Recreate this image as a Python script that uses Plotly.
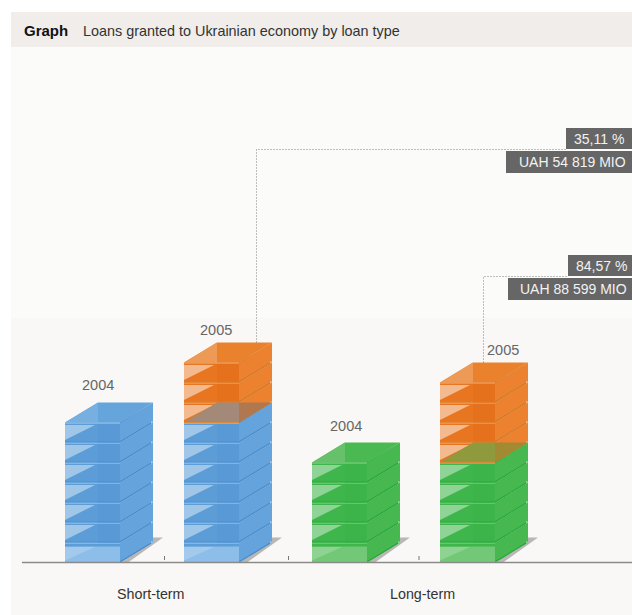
import plotly.graph_objects as go

# ---- data ----
title_bold = "Graph"
title_text = "Loans granted to Ukrainian economy by loan type"
categories = ["Short-term", "Long-term"]
years = ["2004", "2005"]
floors_2004 = [7, 5]
floors_2005 = [10, 9]
pct_labels = ["35,11 %", "84,57 %"]
amount_labels = ["UAH 54 819 MIO", "UAH 88 599 MIO"]

# ---- geometry / styling ----
W, H, BASE_PX, FLOOR_PX = 632, 615, 562.5, 20
FW, DX = 55, 33          # front width and depth offset
SLOT_X = {(0, 0): 65, (0, 1): 184, (1, 0): 312, (1, 1): 440}
TICKS_X = [164.5, 288.5, 419]
FONT = "Liberation Sans, Arial, sans-serif"

PAL = {
    "blue": dict(front="#5c9dd8", right="#5999d6", side="#65a3dc", top="#66a5dc", topl="#77afe1",
                 edge="#4f92d2", sidee="#458acb", light="#a9cfef", base="#8dbde9", gloss="rgba(255,255,255,0.42)"),
    "green": dict(front="#3fb64b", right="#3cb449", side="#47b84f", top="#4bb951", topl="#66c16a",
                  edge="#2bac40", sidee="#22a63a", light="#8ed492", base="#73c878", gloss="rgba(255,255,255,0.42)"),
    "orange": dict(front="#e8751f", right="#e6711d", side="#ec8130", top="#e9812d", topl="#ee9a57",
                   edge="#d97f2c", sidee="#c97a26", light="#f2b27e", base="#e8751f", gloss="rgba(255,255,255,0.5)"),
}
OVERLAP = {"blue": ("#a38a78", "#b0784f"), "green": ("#8f9a3c", "#a18a32")}

fig = go.Figure()


def py(p):
    """pixel row -> floors on the y axis"""
    return (BASE_PX - p) / FLOOR_PX


def poly(xs, ys, color):
    fig.add_trace(go.Scatter(x=xs, y=ys, mode="lines", fill="toself", fillcolor=color,
                             line=dict(width=0), hoverinfo="skip", showlegend=False))


def rect(x0, x1, y0, y1, color):
    poly([x0, x1, x1, x0, x0], [y0, y0, y1, y1, y0], color)


def floor(x0, k, pal, bottom=False, h=1.0):
    # side face
    poly([x0 + FW, x0 + FW + DX, x0 + FW + DX, x0 + FW, x0 + FW],
         [k, k + 1, k + 1 + h, k + h, k], pal["side"])
    # front face
    rect(x0, x0 + FW, k, k + h, pal["base"] if bottom else pal["front"])
    if bottom:
        rect(x0, x0 + FW, k + 0.8, k + h, pal["front"])
        poly([x0, x0 + 30, x0, x0], [k + 0.78, k + 0.78, k + 0.1, k + 0.78], "rgba(255,255,255,0.2)")
    else:
        rect(x0 + DX, x0 + FW, k, k + h, pal["right"])
        poly([x0, x0 + 30, x0, x0], [k + 0.88, k + 0.88, k + 0.12, k + 0.88], pal["gloss"])
        rect(x0, x0 + FW, k, k + 0.05, pal["edge"])
    # separator on top of the floor
    rect(x0, x0 + FW, k + h - 0.05, k + h, pal["light"])
    poly([x0 + FW, x0 + FW + DX, x0 + FW + DX, x0 + FW, x0 + FW],
         [k, k + 1, k + 1.06, k + 0.06, k], pal["sidee"])
    poly([x0 + FW + DX - 2, x0 + FW + DX, x0 + FW + DX, x0 + FW + DX - 2],
         [k + 0.95, k + 1.0, k + 1.05, k + 1.05], "rgba(255,255,255,0.5)")


def top_face(x0, n, pal):
    poly([x0, x0 + DX, x0 + FW + DX, x0 + FW, x0], [n, n + 1, n + 1, n, n], pal["top"])
    poly([x0, x0 + DX, x0 + DX, x0], [n, n + 1, n, n], pal["topl"])
    poly([x0 + FW, x0 + FW + DX, x0 + FW + DX, x0 + FW, x0 + FW],
         [n, n + 1, n + 0.96, n - 0.04, n], pal["sidee"])


def shadow(x0):
    poly([x0 + FW, x0 + FW + DX, x0 + FW + DX + 10, x0 + FW + 8, x0 + FW],
         [0, 1.25, 1.25, 0, 0], "rgba(140,140,140,0.6)")


def stack(x0, n, color):
    pal = PAL[color]
    shadow(x0)
    for k in range(n):
        floor(x0, k, pal, bottom=(k == 0))
    top_face(x0, n, pal)


def orange_on(x0, n0, n1, under):
    pal = PAL["orange"]
    for k in range(n0, n1):
        floor(x0, k, pal)
    # the top of the 2004 block seen through the first orange floor
    poly([x0, x0 + DX, x0 + FW, x0 + FW, x0], [n0, n0 + 1, n0 + 1, n0, n0], OVERLAP[under][0])
    poly([x0 + FW, x0 + FW, x0 + FW + DX, x0 + FW], [n0, n0 + 1, n0 + 1, n0], OVERLAP[under][1])
    rect(x0, x0 + FW, n0 - 0.03, n0 + 0.03, "#d98a3c")
    top_face(x0, n1, pal)


colors = ["blue", "green"]
for c in range(2):
    stack(SLOT_X[(c, 0)], floors_2004[c], colors[c])
    stack(SLOT_X[(c, 1)], floors_2004[c], colors[c])
    orange_on(SLOT_X[(c, 1)], floors_2004[c], floors_2005[c], colors[c])

# leaders
LEADER_X = [256.5, 483.5]
LEADER_END = [(566, 149.5), (568, 276.5)]
for c in range(2):
    fig.add_trace(go.Scatter(
        x=[LEADER_X[c], LEADER_X[c], LEADER_END[c][0]],
        y=[floors_2005[c] + 1, py(LEADER_END[c][1]), py(LEADER_END[c][1])],
        mode="lines", line=dict(color="#808080", width=1, dash="1px,2px"),
        hoverinfo="skip", showlegend=False))

# axis line and ticks
fig.add_trace(go.Scatter(x=[22, W], y=[0, 0], mode="lines", line=dict(color="#8a8a88", width=1.5),
                         hoverinfo="skip", showlegend=False))
for tx in TICKS_X:
    fig.add_trace(go.Scatter(x=[tx, tx], y=[py(556), py(560)], mode="lines",
                             line=dict(color="#777777", width=1), hoverinfo="skip", showlegend=False))

shapes = [
    dict(type="rect", x0=11, x1=W, y0=12, y1=H, fillcolor="#f9f8f6"),
    dict(type="rect", x0=11, x1=W, y0=47, y1=318, fillcolor="#fbfbf9"),
    dict(type="rect", x0=11, x1=W, y0=12, y1=47, fillcolor="#f0edea"),
    dict(type="rect", x0=566, x1=W, y0=128, y1=149, fillcolor="#666666"),
    dict(type="rect", x0=506, x1=W, y0=151, y1=173, fillcolor="#666666"),
    dict(type="rect", x0=568, x1=W, y0=255, y1=276, fillcolor="#666666"),
    dict(type="rect", x0=508, x1=W, y0=278, y1=300, fillcolor="#666666"),
]
for s in shapes:
    s.update(xref="x", yref="paper", line=dict(width=0), layer="below")
    s["y0"], s["y1"] = 1 - s["y0"] / H, 1 - s["y1"] / H

anns = []


def text(x, y_px, s, size=15, color="#555555", anchor="center", bold=False):
    anns.append(dict(x=x, y=py(y_px), xref="x", yref="y", text=f"<b>{s}</b>" if bold else s,
                     showarrow=False, xanchor=anchor, yanchor="middle",
                     font=dict(family=FONT, size=size, color=color)))


text(22, 30.5, title_bold, size=15, color="#111111", anchor="left", bold=True)
text(81, 30.5, title_text, size=14.4, color="#333333", anchor="left")

YEAR_POS = {(0, 0): (98, 385), (0, 1): (216, 330), (1, 0): (346, 426), (1, 1): (503, 350)}
for (c, y_i), (x, yp) in YEAR_POS.items():
    text(x, yp, years[y_i], size=14.5, color="#666666")

CAT_X = [150.5, 422]
for c in range(2):
    text(CAT_X[c], 594, categories[c], size=14.3, color="#333333")

PCT_POS = [(598.5, 139), (601.5, 266)]
AMT_POS = [(572, 162), (573, 289)]
for c in range(2):
    text(PCT_POS[c][0], PCT_POS[c][1], pct_labels[c], size=14, color="#f2f2f2")
    text(AMT_POS[c][0], AMT_POS[c][1], amount_labels[c], size=14, color="#f2f2f2")

fig.update_layout(
    width=W, height=H, margin=dict(l=0, r=0, t=0, b=0),
    paper_bgcolor="#ffffff", plot_bgcolor="rgba(0,0,0,0)",
    xaxis=dict(range=[0, W], visible=False, fixedrange=True),
    yaxis=dict(range=[py(H), py(0)], visible=False, fixedrange=True),
    shapes=shapes, annotations=anns, showlegend=False,
)
fig.write_html("out.html", config=dict(displayModeBar=False),
               post_script="document.body.style.margin='0';document.body.style.overflow='hidden';")
